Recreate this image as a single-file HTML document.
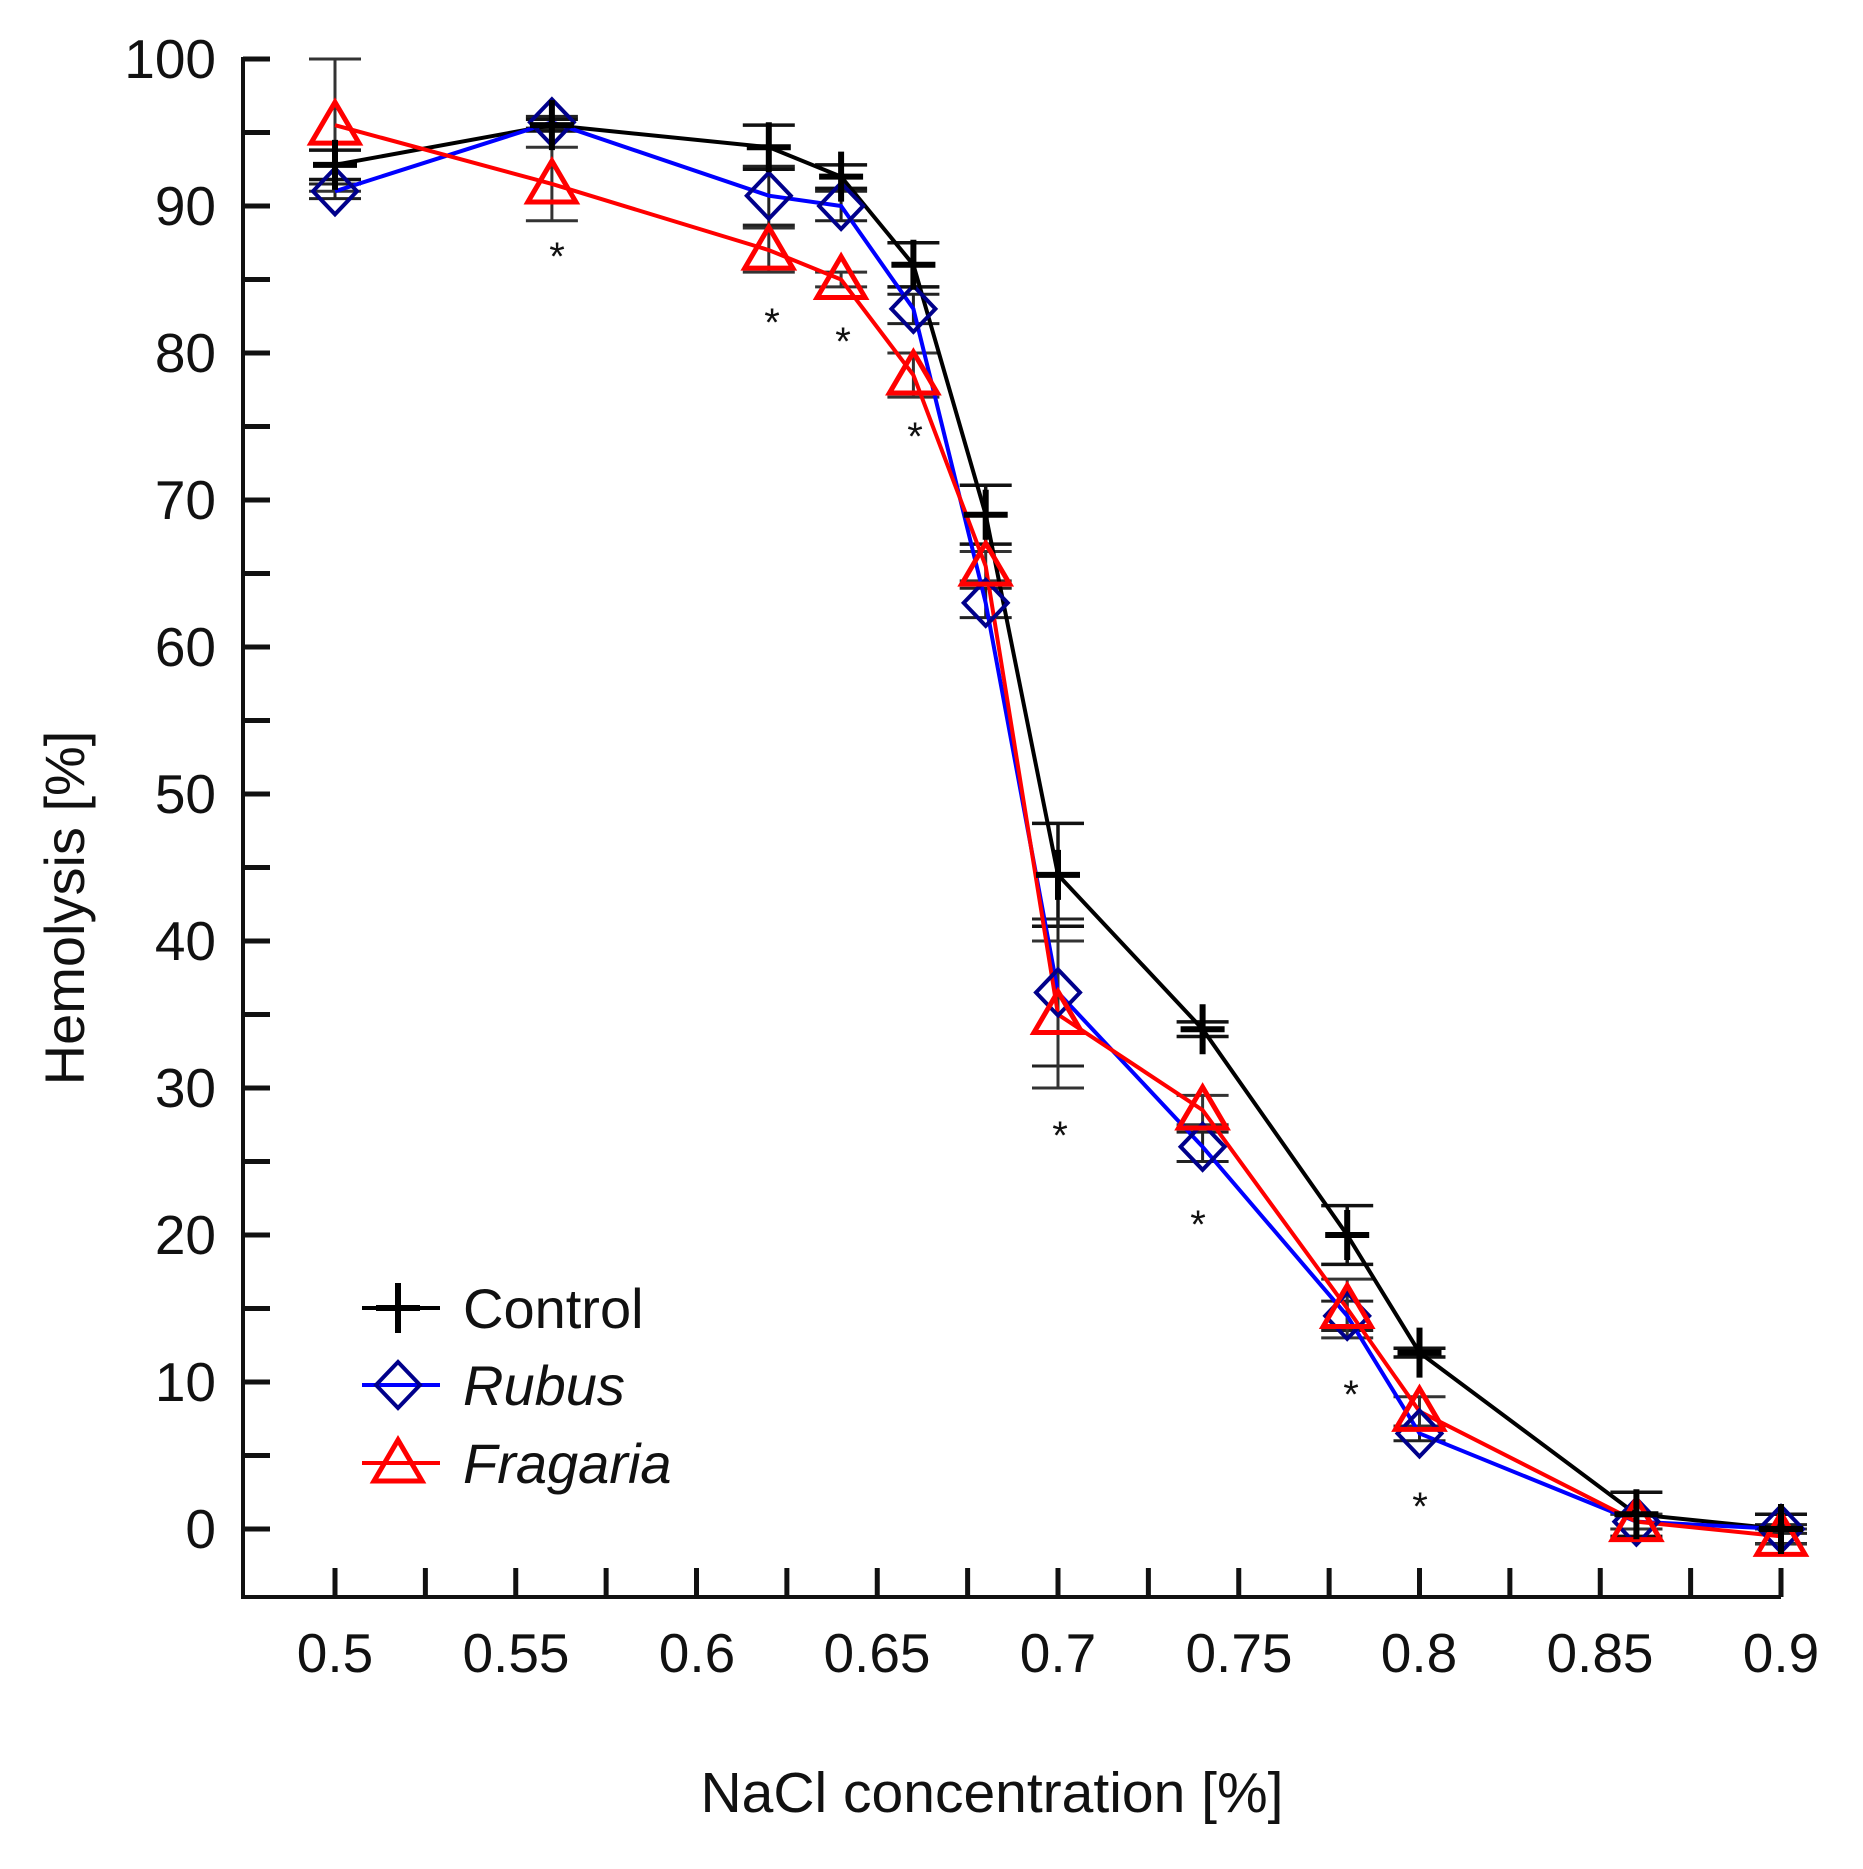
<!DOCTYPE html>
<html><head><meta charset="utf-8"><style>
html,body{margin:0;padding:0;background:#fff;}
svg{display:block;}
text{font-family:"Liberation Sans",sans-serif;fill:#111;}
</style></head><body>
<svg id="s" width="1863" height="1869" viewBox="0 0 1863 1869" xmlns="http://www.w3.org/2000/svg">
<g id="axes" stroke="#111" stroke-width="4" fill="none">
<path d="M243 57 V1597 H1781"/>
</g>
<g id="ticks" stroke="#111" stroke-width="5"></g>
<g id="data"></g>
<g font-size="55" text-anchor="end">
<text x="216" y="78">100</text>
<text x="216" y="225">90</text>
<text x="216" y="372">80</text>
<text x="216" y="519">70</text>
<text x="216" y="666">60</text>
<text x="216" y="813">50</text>
<text x="216" y="960">40</text>
<text x="216" y="1107">30</text>
<text x="216" y="1254">20</text>
<text x="216" y="1401">10</text>
<text x="216" y="1548">0</text>
</g>
<g font-size="55" text-anchor="middle">
<text x="335" y="1672">0.5</text>
<text x="516" y="1672">0.55</text>
<text x="697" y="1672">0.6</text>
<text x="877" y="1672">0.65</text>
<text x="1058" y="1672">0.7</text>
<text x="1239" y="1672">0.75</text>
<text x="1419" y="1672">0.8</text>
<text x="1600" y="1672">0.85</text>
<text x="1781" y="1672">0.9</text>
<text x="992" y="1812" font-size="57">NaCl concentration [%]</text>
<text transform="translate(84,908) rotate(-90)" font-size="56">Hemolysis [%]</text>
</g>
<g font-size="56">
<text x="463" y="1328">Control</text>
<text x="463" y="1405" font-style="italic">Rubus</text>
<text x="463" y="1483" font-style="italic">Fragaria</text>
</g>
<g font-size="40" text-anchor="middle">
<text x="557" y="270">*</text>
<text x="772" y="336">*</text>
<text x="843" y="355">*</text>
<text x="915" y="450">*</text>
<text x="1060" y="1149">*</text>
<text x="1198" y="1238">*</text>
<text x="1351" y="1408">*</text>
<text x="1420" y="1520">*</text>
</g>
</svg>
<script>
var NS="http://www.w3.org/2000/svg";
function el(p,t,a){var e=document.createElementNS(NS,t);for(var k in a)e.setAttribute(k,a[k]);p.appendChild(e);return e;}
var T=document.getElementById('ticks'),D=document.getElementById('data');
function X(c){return 335+(c-0.5)*3615;}function Y(v){return 1529-v*14.7;}
for(var v=0;v<=100;v+=5){el(T,'line',{x1:243,x2:270,y1:Y(v),y2:Y(v)});}
for(var i=0;i<=16;i++){var c=0.5+i*0.025;el(T,'line',{x1:X(c),x2:X(c),y1:1597,y2:1568});}
var xs=[0.5,0.56,0.62,0.64,0.66,0.68,0.70,0.74,0.78,0.80,0.86,0.9];
var ctl=[92.8,95.5,94,92,86,69,44.5,34,20,12,1,0],ce=[1,0.4,1.5,0.8,1.5,2,3.5,0.5,2,0.3,1.5,1];
var rub=[91,95.7,90.7,90,83,63,36.5,26,14.5,6.5,0.5,0],re=[0.5,0.4,2,1,1,1,5,1,1,0.5,0.5,0.3];
var fra=[95.5,91.5,87,85,78.5,65.5,35,28.5,15,8,0.5,-0.5],fe=[4.5,2.5,1.5,0.5,1.5,1,5,1,2,1,0.5,0.5];
function err(arr,e,col,w){xs.forEach(function(c,i){var x=X(c),y1=Y(arr[i]+e[i]),y2=Y(arr[i]-e[i]);
el(D,'line',{x1:x,x2:x,y1:y1,y2:y2,stroke:col,'stroke-width':w});
el(D,'line',{x1:x-26,x2:x+26,y1:y1,y2:y1,stroke:col,'stroke-width':w});
el(D,'line',{x1:x-26,x2:x+26,y1:y2,y2:y2,stroke:col,'stroke-width':w});});}
function line(arr,col){el(D,'polyline',{points:xs.map(function(c,i){return X(c)+','+Y(arr[i]);}).join(' '),fill:'none',stroke:col,'stroke-width':4});}
err(ctl,ce,'#111',3.5);err(rub,re,'#222',3);err(fra,fe,'#333',3);
line(ctl,'#000');line(rub,'#0000ff');line(fra,'#ff0000');
function plus(x,y){el(D,'line',{x1:x-22,x2:x+22,y1:y,y2:y,stroke:'#000','stroke-width':6});el(D,'line',{x1:x,x2:x,y1:y-25,y2:y+25,stroke:'#000','stroke-width':6});}
function dia(x,y){el(D,'polygon',{points:(x-22)+','+y+' '+x+','+(y-23)+' '+(x+22)+','+y+' '+x+','+(y+23),fill:'none',stroke:'#00008b','stroke-width':4});}
function tri(x,y){el(D,'polygon',{points:(x-24)+','+(y+18)+' '+x+','+(y-23)+' '+(x+24)+','+(y+18),fill:'none',stroke:'#ff0000','stroke-width':5});}
xs.forEach(function(c,i){dia(X(c),Y(rub[i]));});
xs.forEach(function(c,i){tri(X(c),Y(fra[i]));});
xs.forEach(function(c,i){plus(X(c),Y(ctl[i]));});
el(D,'line',{x1:362,x2:440,y1:1308,y2:1308,stroke:'#000','stroke-width':4});plus(398,1308);
el(D,'line',{x1:362,x2:440,y1:1385,y2:1385,stroke:'#0000ff','stroke-width':4});dia(398,1385);
el(D,'line',{x1:362,x2:440,y1:1463,y2:1463,stroke:'#ff0000','stroke-width':4});tri(398,1463);
</script>
</body></html>
